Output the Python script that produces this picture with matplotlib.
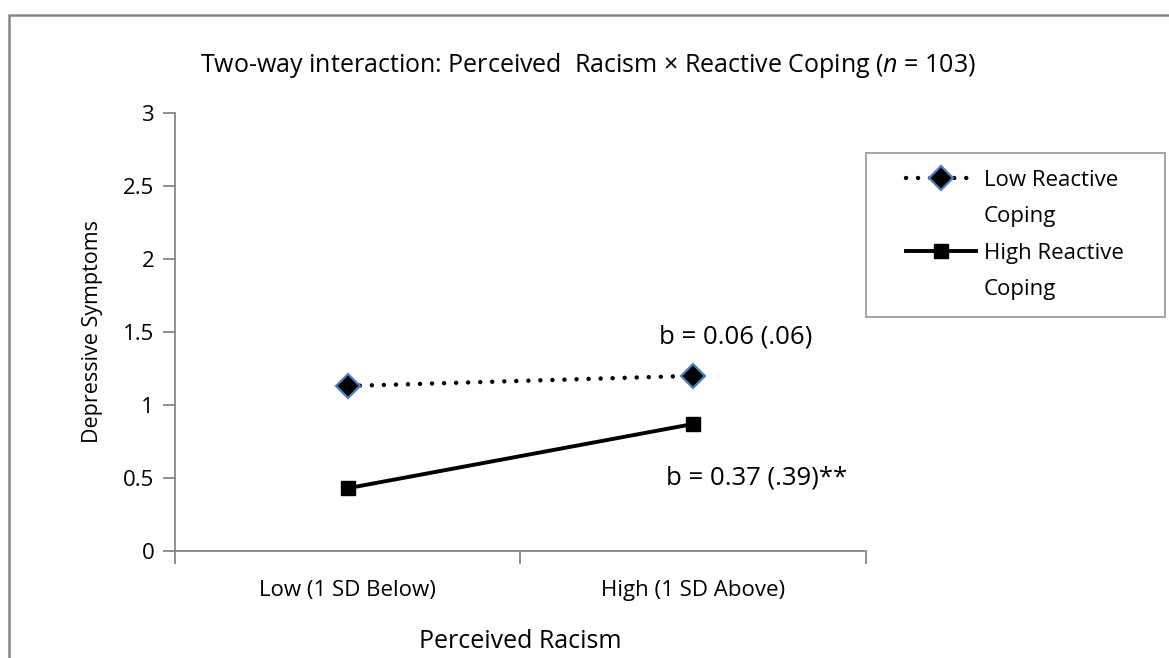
import numpy as np
import matplotlib.pyplot as plt
from matplotlib.patches import Rectangle
from matplotlib.lines import Line2D
from matplotlib.legend_handler import HandlerLine2D

plt.rcParams['font.family'] = ['Open Sans', 'DejaVu Sans']
plt.rcParams['mathtext.fontset'] = 'custom'
plt.rcParams['mathtext.it'] = 'Open Sans:italic'
plt.rcParams['mathtext.rm'] = 'Open Sans'

# data
categories = ['Low (1 SD Below)', 'High (1 SD Above)']
low_coping = [1.13, 1.20]
high_coping = [0.43, 0.87]
yticks = [0, 0.5, 1, 1.5, 2, 2.5, 3]
ytick_labels = ['0', '0.5', '1', '1.5', '2', '2.5', '3']

gray = '#868686'
blue = '#4F81BD'

fig = plt.figure(figsize=(11.69, 6.58), dpi=100)
ax = fig.add_axes([0.1497, 0.1626, 0.5911, 0.6657])

x = np.arange(1, len(categories) + 1)
# round dots for the dotted series
l1, = ax.plot(x, low_coping, linestyle=(0, (0.01, 2.7)), color='black', lw=3.2, marker='D', ms=12,
              mfc='black', mec=blue, mew=1.6, dash_capstyle='round')
l2, = ax.plot(x, high_coping, linestyle='-', color='black', lw=2.8, marker='s', ms=10.5,
              mfc='black', mec='black')

ax.set_xlim(0.5, 2.5)
ax.set_ylim(0, 3)
ax.set_yticks(yticks)
ax.set_yticklabels(ytick_labels)
ax.set_xticks(x)
ax.set_xticklabels(categories)
ax.set_xticks([0.5, 1.5, 2.5], minor=True)
ax.tick_params(axis='x', which='major', length=0, pad=21, labelsize=16)
ax.tick_params(axis='x', which='minor', length=9, color=gray, width=1.3)
ax.tick_params(axis='y', length=9, color=gray, width=1.3, labelsize=16, pad=6)

for s in ['top', 'right']:
    ax.spines[s].set_visible(False)
for s in ['left', 'bottom']:
    ax.spines[s].set_color(gray)
    ax.spines[s].set_linewidth(1.3)

ax.set_ylabel('Depressive Symptoms', fontsize=15.5, labelpad=14)
ax.set_xlabel('Perceived Racism', fontsize=18, labelpad=20)

ax.text(2.124, 1.466, 'b = 0.06 (.06)', fontsize=18.5, ha='center', va='center')
ax.text(1.92, 0.50, 'b = 0.37 (.39)**', fontsize=18.5, ha='left', va='center')

fig.text(0.503, 0.9, r'Two-way interaction: Perceived  Racism × Reactive Coping ($n$ = 103)',
         fontsize=18, ha='center', va='center')

blank = Line2D([], [], linestyle='none', marker=None)
hmap = {l1: HandlerLine2D(xpad=1.05), l2: HandlerLine2D(xpad=1.05)}
leg = ax.legend([l1, blank, l2, blank],
                ['Low Reactive', 'Coping', 'High Reactive', 'Coping'],
                handler_map=hmap,
                loc='upper left', bbox_to_anchor=(0.7408, 1 - 315 / 658, 0.2558, 0.2462),
                bbox_transform=fig.transFigure, mode='expand', fontsize=16, numpoints=1,
                frameon=True, fancybox=False, edgecolor=gray, handlelength=4.2,
                labelspacing=0.7, borderpad=0.75, handletextpad=0.36, borderaxespad=0)
leg.get_frame().set_linewidth(1.3)

fig.add_artist(Rectangle((9 / 1169, -0.2), 1.5, 1 - 15 / 658 + 0.2, transform=fig.transFigure,
                         fill=False, edgecolor=gray, lw=1.8))

fig.savefig('out.png', dpi=100)
